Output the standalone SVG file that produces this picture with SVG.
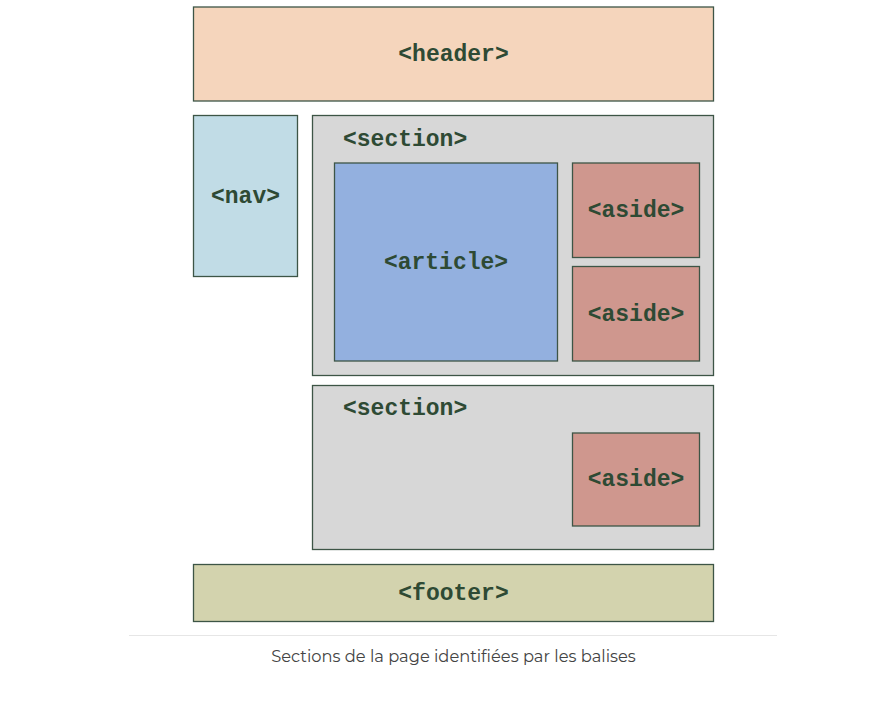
<svg xmlns="http://www.w3.org/2000/svg" width="885" height="707" viewBox="0 0 885 707">
<style>
.box{stroke:#3d5546;stroke-width:1.3}
.lbl{font-family:"Liberation Mono","Courier New",monospace;font-weight:bold;font-size:23px;fill:#2e4a34}
.c{text-anchor:middle}
.cap{font-family:"Montserrat","Open Sans","Noto Sans",sans-serif;font-size:16.3px;fill:#444;text-anchor:middle}
</style>
<rect width="885" height="707" fill="#fff"/>
<g id="header"><rect class="box" x="193.5" y="7" width="520" height="94" fill="#f5d5bc"/><text class="lbl c" x="453.5" y="61">&lt;header&gt;</text></g>
<g id="nav"><rect class="box" x="193.5" y="115.5" width="104" height="161" fill="#c1dce6"/><text class="lbl c" x="245.5" y="203">&lt;nav&gt;</text></g>
<g id="section1"><rect class="box" x="312.5" y="115.5" width="401" height="260" fill="#d7d7d7"/><text class="lbl" x="343" y="146">&lt;section&gt;</text></g>
<g id="article"><rect class="box" x="334.5" y="163" width="223" height="198" fill="#93b0df"/><text class="lbl c" x="446" y="269">&lt;article&gt;</text></g>
<g id="aside1"><rect class="box" x="572.5" y="163" width="127" height="94.5" fill="#cf978e"/><text class="lbl c" x="636" y="217">&lt;aside&gt;</text></g>
<g id="aside2"><rect class="box" x="572.5" y="266.5" width="127" height="94.5" fill="#cf978e"/><text class="lbl c" x="636" y="321">&lt;aside&gt;</text></g>
<g id="section2"><rect class="box" x="312.5" y="385.5" width="401" height="164" fill="#d7d7d7"/><text class="lbl" x="343" y="415">&lt;section&gt;</text></g>
<g id="aside3"><rect class="box" x="572.5" y="433" width="127" height="93" fill="#cf978e"/><text class="lbl c" x="636" y="486">&lt;aside&gt;</text></g>
<g id="footer"><rect class="box" x="193.5" y="564.5" width="520" height="57" fill="#d3d3ae"/><text class="lbl c" x="453.5" y="600">&lt;footer&gt;</text></g>
<g id="connectors"></g>
<line x1="129" y1="635.5" x2="777" y2="635.5" stroke="#e6e6e6" stroke-width="1"/>
<text class="cap" x="453.5" y="662">Sections de la page identifiées par les balises</text>
</svg>
